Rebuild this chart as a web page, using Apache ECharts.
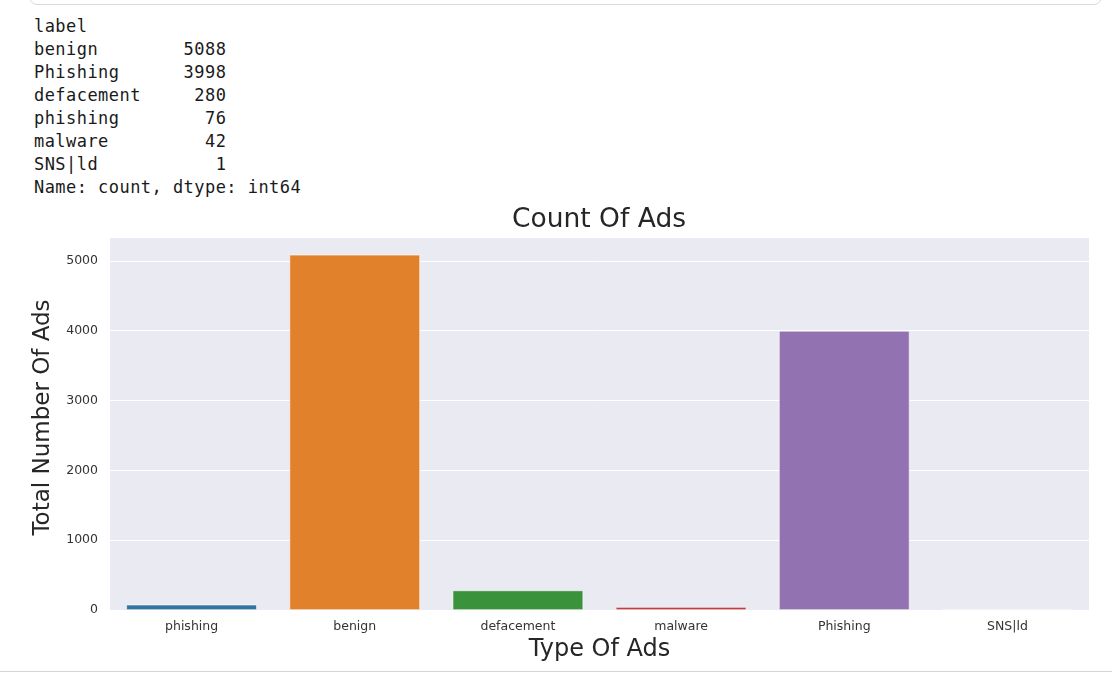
<!DOCTYPE html>
<html>
<head>
<meta charset="utf-8">
<script src="https://cdn.jsdelivr.net/npm/echarts@6/dist/echarts.min.js"></script>
<style>
  html, body { margin: 0; padding: 0; background: #fff; }
  #wrap { position: relative; width: 1112px; height: 674px; overflow: hidden; }
  #cellTop { position: absolute; left: 29px; right: 10px; top: -21px; height: 24px;
    border: 1px solid #dadada; border-radius: 8px; }
  #out { position: absolute; left: 34px; top: 14.5px; margin: 0;
    font-family: "DejaVu Sans Mono", monospace; font-size: 17px; line-height: 23px;
    letter-spacing: 0.45px; color: #1a1a1a; }
  #chart { position: absolute; left: 0; top: 0; width: 1112px; height: 674px; }
  #rule { position: absolute; left: 0; right: 0; top: 671px; height: 1px; background: #d4d4d4; }
</style>
</head>
<body>
<div id="wrap">
  <div id="cellTop"></div>
  <pre id="out"></pre>
  <div id="chart"></div>
  <div id="rule"></div>
</div>
<script>
const categories = ['phishing', 'benign', 'defacement', 'malware', 'Phishing', 'SNS|ld'];
const counts = [76, 5088, 280, 42, 3998, 1];
const COLORS = ['#3274a1', '#e1812c', '#3a923a', '#c03d3e', '#9372b2', '#845b53'];

// value_counts() printout, sorted by count
const rows = categories.map((c, i) => [c, counts[i]]).sort((a, b) => b[1] - a[1]);
const nameW = Math.max(...rows.map(r => r[0].length));
const valW = Math.max(...rows.map(r => String(r[1]).length));
document.getElementById('out').textContent =
  'label\n' +
  rows.map(r => r[0].padEnd(nameW) + '    ' + String(r[1]).padStart(valW)).join('\n') +
  '\nName: count, dtype: int64';

const chart = echarts.init(document.getElementById('chart'));
const FONT = 'DejaVu Sans';
chart.setOption({
  animation: false,
  title: { text: 'Count Of Ads', left: 507, top: 202,
    textStyle: { fontFamily: FONT, fontSize: 26.5, fontWeight: 'normal', color: '#262626' } },
  grid: { left: 110, right: 23, top: 237, bottom: 64, show: true,
    backgroundColor: '#eaeaf2', borderWidth: 0 },
  xAxis: { type: 'category', data: categories,
    name: 'Type Of Ads', nameLocation: 'middle', nameGap: 28, nameMoveOverlap: false,
    nameTextStyle: { fontFamily: FONT, fontSize: 24, color: '#262626' },
    axisLine: { show: false }, axisTick: { show: false },
    axisLabel: { fontFamily: FONT, fontSize: 12.5, color: '#333333', margin: 10 } },
  yAxis: { type: 'value', min: 0, max: 5342.4, interval: 1000,
    name: 'Total Number Of Ads', nameLocation: 'middle', nameGap: 55, nameMoveOverlap: false,
    nameTextStyle: { fontFamily: FONT, fontSize: 23, color: '#262626', padding: [0, 0, 0, 12] },
    axisLine: { show: false }, axisTick: { show: false },
    axisLabel: { fontFamily: FONT, fontSize: 12.5, color: '#333333', margin: 12, showMaxLabel: false,
      formatter: v => String(v) },
    splitLine: { lineStyle: { color: '#ffffff', width: 1 } } },
  series: [{ type: 'bar', barCategoryGap: '20%',
    data: counts.map((v, i) => ({ value: v, itemStyle: { color: COLORS[i], borderColor: '#ffffff', borderWidth: 0.6 } })) }]
});
</script>
</body>
</html>
